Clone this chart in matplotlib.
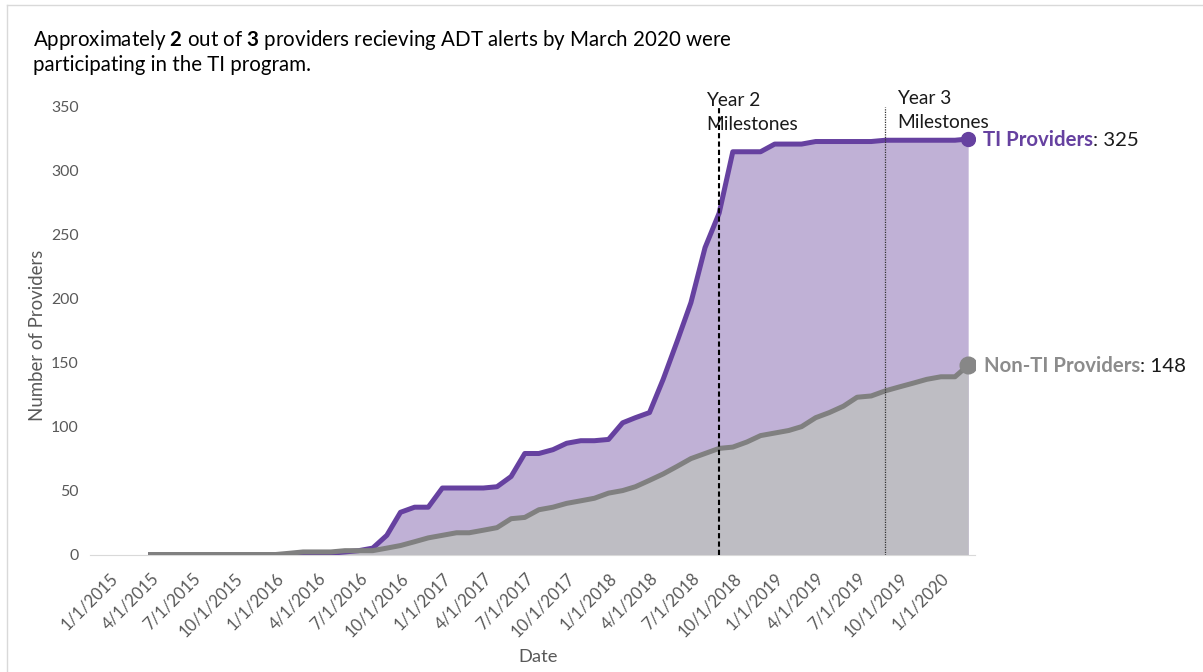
import matplotlib
matplotlib.use("Agg")
import matplotlib.pyplot as plt
from matplotlib.lines import Line2D
import pandas as pd

# monthly counts, Apr 2015 - Mar 2020
months = pd.date_range("2015-04-01", periods=60, freq="MS")

ti_providers = [
    0, 0, 0, 0, 0, 0, 0, 0, 0, 0, 0, 1, 1, 1, 2, 3, 5, 15, 33, 37,
    37, 52, 52, 52, 52, 53, 61, 79, 79, 82, 87, 89, 89, 90, 103, 107, 111, 137, 167, 197,
    240, 267, 315, 315, 315, 321, 321, 321, 323, 323, 323, 323, 323, 324, 324, 324, 324, 324, 324, 325,
]
non_ti_providers = [
    0, 0, 0, 0, 0, 0, 0, 0, 0, 0, 1, 2, 2, 2, 3, 3, 3, 5, 7, 10,
    13, 15, 17, 17, 19, 21, 28, 29, 35, 37, 40, 42, 44, 48, 50, 53, 58, 63, 69, 75,
    79, 83, 84, 88, 93, 95, 97, 100, 107, 111, 116, 123, 124, 128, 131, 134, 137, 139, 139, 148,
]

tick_dates = pd.date_range("2015-01-01", "2020-01-01", freq="QS")
tick_labels = [f"{d.month}/{d.day}/{d.year}" for d in tick_dates]

milestone_dates = [pd.Timestamp("2018-09-01"), pd.Timestamp("2019-09-01")]
milestone_labels = ["Year 2\nMilestones", "Year 3\nMilestones"]

purple = "#6641A0"
purple_fill = "#C0B1D6"
gray = "#808080"
gray_fill = "#BEBDC3"
axis_gray = "#595959"

plt.rcParams["font.family"] = ["Lato", "DejaVu Sans"]
plt.rcParams["mathtext.fontset"] = "custom"
plt.rcParams["mathtext.rm"] = "Lato"
plt.rcParams["mathtext.bf"] = "Lato:bold"

fig = plt.figure(figsize=(12.03, 6.72), dpi=100)
ax = fig.add_axes([90 / 1203, 1 - 554.5 / 672, 885 / 1203, 447.5 / 672])

ax.fill_between(months, ti_providers, color=purple_fill, lw=0, zorder=1)
ax.fill_between(months, non_ti_providers, color=gray_fill, lw=0, zorder=2)
ax.plot(months, ti_providers, color=purple, lw=3.6, zorder=3)
ax.plot(months, non_ti_providers, color=gray, lw=3.6, zorder=4)
ax.plot(months[-1], ti_providers[-1], "o", ms=10, color=purple, zorder=5)
ax.plot(months[-1], non_ti_providers[-1], "o", ms=12, color="#878787", zorder=5)

# milestone markers
ax.vlines(milestone_dates[0], 0, 350, colors="black", linestyles=(0, (2.5, 1.5)), lw=1.5, zorder=6)
ax.vlines(milestone_dates[1], 0, 350, colors="#333333", linestyles=(0, (1, 1)), lw=0.9, zorder=6)
ax.annotate(milestone_labels[0], (milestone_dates[0], 350), xytext=(-9.5, -4),
            textcoords="offset points", ha="left", va="center", fontsize=13.8, color="#1a1a1a",
            linespacing=1.45)
ax.annotate(milestone_labels[1], (milestone_dates[1], 350), xytext=(8.5, -2.5),
            textcoords="offset points", ha="left", va="center", fontsize=13.8, color="#1a1a1a",
            linespacing=1.45)

# end labels: bold name + regular value on one baseline
renderer = fig.canvas.get_renderer()
end_labels = [("TI Providers", ": 325", ti_providers[-1], purple, 10.5),
              ("Non-TI Providers", ": 148", non_ti_providers[-1], "#8C8C8C", 11.5)]
for name, value, yv, col, dx in end_labels:
    t = ax.annotate(name, (months[-1], yv), xytext=(dx, -5), textcoords="offset points",
                    ha="left", va="baseline", fontsize=14.7, fontweight="bold", color=col)
    w = t.get_window_extent(renderer).width * 72 / fig.dpi
    ax.annotate(value, (months[-1], yv), xytext=(dx + w, -5), textcoords="offset points",
                ha="left", va="baseline", fontsize=14.7, color="#1a1a1a")

ax.set_ylim(0, 350)
ax.set_xlim(pd.Timestamp("2014-11-19"), pd.Timestamp("2020-03-16"))
ax.set_yticks(range(0, 351, 50))
ax.set_xticks(tick_dates)
ax.set_xticklabels(tick_labels, rotation=45, ha="right", va="top", rotation_mode="anchor")
ax.tick_params(axis="x", length=0, pad=11, labelsize=12, labelcolor=axis_gray)
ax.tick_params(axis="y", length=0, pad=8, labelsize=11.4, labelcolor=axis_gray)
for s in ["top", "right", "left"]:
    ax.spines[s].set_visible(False)
ax.spines["bottom"].set_color("#D9D9D9")
ax.spines["bottom"].set_zorder(0)

fig.text(38 / 1203, 1 - 335 / 672, "Number of Providers", rotation=90, ha="center", va="center",
         fontsize=13.4, color=axis_gray)
fig.text(538 / 1203, 1 - 657 / 672, "Date", ha="center", va="center", fontsize=13.2, color=axis_gray)

fig.text(33 / 1203, 1 - 40 / 672,
         r"Approximately $\mathbf{2}$ out of $\mathbf{3}$ providers recieving ADT alerts by March 2020 were",
         fontsize=14.8, color="black", va="center")
fig.text(33 / 1203, 1 - 65 / 672, "participating in the TI program.",
         fontsize=14.8, color="black", va="center")

# chart border
fig.add_artist(Line2D([7 / 1203, 7 / 1203], [0, 1 - 5 / 672], color="#D9D9D9", lw=1))
fig.add_artist(Line2D([7 / 1203, 1], [1 - 5 / 672, 1 - 5 / 672], color="#D9D9D9", lw=1))

fig.savefig("out.png", dpi=100)
